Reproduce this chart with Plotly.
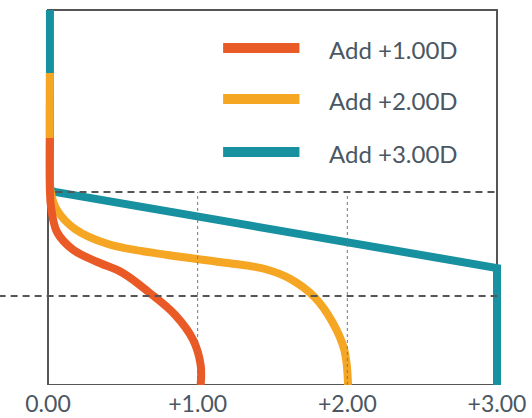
import plotly.graph_objects as go

# -------------------------------------------------
# Data (x = addition power, y = height on lens)
# -------------------------------------------------
add1_x = [0.013, 0.013, 0.02, 0.06, 0.17, 0.33, 0.50, 0.68, 0.85, 0.97, 1.02, 1.02]
add1_y = [24.7, 19.5, 17.8, 15.3, 13.5, 12.3, 11.2, 9.2, 7.0, 4.5, 2.0, 0.0]

add2_x = [0.013, 0.013, 0.018, 0.06, 0.18, 0.40, 0.80, 1.20, 1.45, 1.62, 1.78, 1.90, 1.98, 2.005]
add2_y = [31.2, 21.0, 19.3, 17.5, 15.6, 14.1, 13.0, 12.2, 11.6, 10.6, 8.8, 6.3, 3.5, 0.0]

add3_x = [0.013, 0.013, 0.047, 3.00, 3.00]
add3_y = [37.5, 19.5, 19.3, 11.7, 0.0]

series_names = ["Add +1.00D", "Add +2.00D", "Add +3.00D"]
series_colors = ["#ea5a26", "#f5a623", "#17909f"]

tick_vals = [0, 1, 2, 3]
tick_text = ["0.00", "+1.00", "+2.00", "+3.00"]

far_level = 19.3    # upper dashed line
near_level = 8.9    # lower dashed line
dotted_x = [1, 2]

legend_y = [33.7, 28.6, 23.3]

FONT = "Lato, 'Open Sans', sans-serif"
TEXT_COLOR = "#4b5762"
FRAME = "#555555"

fig = go.Figure()

# -------------------------------------------------
# Frame (drawn under the curves)
# -------------------------------------------------
fig.add_shape(type="rect", x0=0, x1=3, y0=0, y1=37.5, layer="below",
              line=dict(color=FRAME, width=2))

# -------------------------------------------------
# Curves (teal underneath, red on top)
# -------------------------------------------------
fig.add_trace(go.Scatter(
    x=add3_x, y=add3_y, mode="lines",
    line=dict(color=series_colors[2], width=8),
    name=series_names[2],
))
fig.add_trace(go.Scatter(
    x=add2_x, y=add2_y, mode="lines",
    line=dict(color=series_colors[1], width=8, shape="spline", smoothing=1),
    name=series_names[1],
))
fig.add_trace(go.Scatter(
    x=add1_x, y=add1_y, mode="lines",
    line=dict(color=series_colors[0], width=8, shape="spline", smoothing=1),
    name=series_names[0],
))

# -------------------------------------------------
# Reference lines
# -------------------------------------------------
fig.add_shape(type="line", x0=0.05, x1=3, y0=far_level, y1=far_level,
              line=dict(color=FRAME, width=2, dash="7px,5px"))
fig.add_shape(type="line", x0=-0.33, x1=3, y0=near_level, y1=near_level,
              line=dict(color=FRAME, width=2, dash="7px,5px"))
for xv in dotted_x:
    fig.add_shape(type="line", x0=xv, x1=xv, y0=0, y1=far_level,
                  line=dict(color="#777777", width=1, dash="dot"))

# -------------------------------------------------
# Hand-made legend
# -------------------------------------------------
for name, color, ly in zip(series_names, series_colors, legend_y):
    fig.add_shape(type="line", x0=1.17, x1=1.68, y0=ly, y1=ly,
                  line=dict(color=color, width=10))
    fig.add_annotation(x=1.864, y=ly - 0.15, text=name,
                       showarrow=False, xanchor="left", yanchor="middle",
                       font=dict(family=FONT, size=24, color=TEXT_COLOR))

# -------------------------------------------------
# Layout: plot area spans the whole width so thick lines are not clipped
# -------------------------------------------------
fig.update_xaxes(
    range=[-0.3207, 3.2338], tickmode="array", tickvals=tick_vals, ticktext=tick_text,
    showgrid=False, zeroline=False, showline=False, automargin=False,
    ticklabelstandoff=3,
    tickfont=dict(family=FONT, size=23, color=TEXT_COLOR),
)
fig.update_yaxes(
    range=[0, 38.5], showticklabels=False, showgrid=False, zeroline=False,
    showline=False, automargin=False,
)
fig.update_layout(
    width=532, height=418,
    margin=dict(l=0, r=0, t=0, b=33),
    plot_bgcolor="white", paper_bgcolor="white",
    showlegend=False,
)

# page body has a default 8px margin; drop it so the figure sits at 0,0
fig.write_html(
    "out.html",
    config={"displayModeBar": False},
    post_script="document.body.style.margin='0';",
)
